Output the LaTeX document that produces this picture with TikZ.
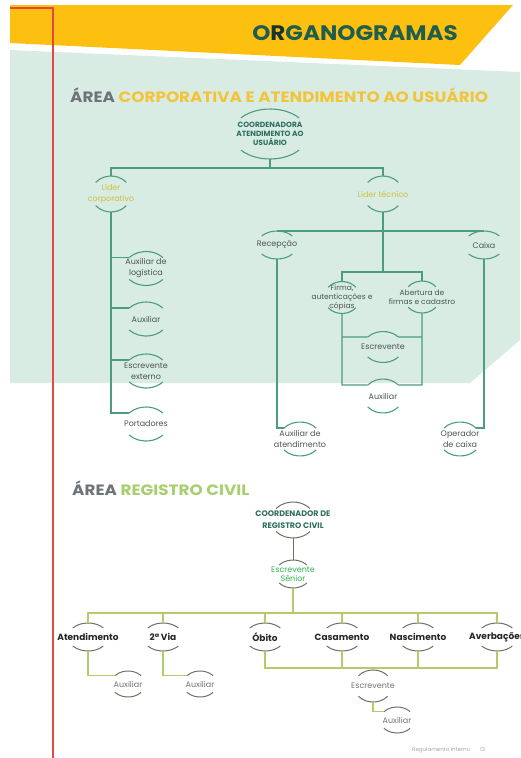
\documentclass[tikz,border=0pt]{standalone}
\usepackage{fontspec}
\setmainfont{Poppins}
\definecolor{yel}{HTML}{FDC010}
\definecolor{pgreen}{HTML}{D8ECE4}
\definecolor{redl}{HTML}{E2493F}
\definecolor{ttl}{HTML}{1F5E4E}
\definecolor{ttldk}{HTML}{17352E}
\definecolor{gry}{HTML}{6E7378}
\definecolor{ytxt}{HTML}{F3C33A}
\definecolor{gtxt}{HTML}{A8CF6E}
\definecolor{uline}{HTML}{4C9C80}
\definecolor{utxt}{HTML}{4B5553}
\definecolor{ldr}{HTML}{C9C23C}
\definecolor{lline}{HTML}{B4CB6C}
\definecolor{larc}{HTML}{707060}
\definecolor{esen}{HTML}{2EB24E}
\definecolor{ctxt}{HTML}{2F6F60}
\newcommand\arcnode[7]{%
  \node[#6] (#1) at #2 {#7};
  \draw[#5] ([shift={(220:#3 and #4)}]#1.center) coordinate (#1-tl)
    arc[start angle=220,end angle=320,x radius=#3,y radius=#4] coordinate (#1-tr);
  \draw[#5] ([shift={(140:#3 and #4)}]#1.center) coordinate (#1-bl)
    arc[start angle=140,end angle=40,x radius=#3,y radius=#4] coordinate (#1-br);
  \coordinate (#1-t) at ([shift={(270:#3 and #4)}]#1.center);
  \coordinate (#1-b) at ([shift={(90:#3 and #4)}]#1.center);
}
\begin{document}
\begin{tikzpicture}[x=1pt,y=-1pt,
  ul/.style={draw=uline,line width=1.2pt},
  ua/.style={draw=uline,line width=1.1pt},
  ll/.style={draw=lline,line width=1.3pt},
  la/.style={draw=larc,line width=1pt},
  ut/.style={font=\fontsize{8}{11}\selectfont,text=utxt,align=center,inner sep=0},
  ft/.style={font=\fontsize{7.5}{8.8}\selectfont,text=utxt,align=center,inner sep=0},
  ct/.style={font=\fontsize{7.5}{9}\selectfont\bfseries,text=ctxt,align=center,inner sep=0},
  lt/.style={font=\fontsize{8}{11}\selectfont,text=ldr,align=center,inner sep=0},
  bt/.style={font=\fontsize{9}{11}\selectfont\bfseries,text=black!85,align=center,inner sep=0},
  gt/.style={font=\fontsize{8}{11}\selectfont,text=black!55,align=center,inner sep=0},
  crt/.style={font=\fontsize{8}{12}\selectfont\bfseries,text=ctxt,align=center,inner sep=0},
  et/.style={font=\fontsize{8}{9}\selectfont,text=esen,align=center,inner sep=0}]
\useasboundingbox (0,0) rectangle (520,758);
\fill[white] (0,0) rectangle (520,758);
% background bands
\fill[pgreen] (10,50) -- (520,72) -- (520,340) -- (470,383) -- (10,383) -- cycle;
\fill[yel] (10,5) -- (513,5) -- (460,65) -- (10,43) -- cycle;
\draw[redl,line width=1.8pt] (10,8) -- (53,8) -- (53,760);
% titles
\node[font=\fontsize{21}{21}\selectfont\bfseries,text=ttl,inner sep=0] (title) at (355,33)
  {\scalebox{1.1}[1]{O\textcolor{ttldk}{R}GANOGRAMAS}};
\node[anchor=west,font=\fontsize{15}{15}\selectfont\bfseries,inner sep=0] (h1) at (70,95)
  {\scalebox{1.12}[1]{\textcolor{gry}{ÁREA} \textcolor{ytxt}{CORPORATIVA E ATENDIMENTO AO USUÁRIO}}};
\node[anchor=west,font=\fontsize{15}{15}\selectfont\bfseries,inner sep=0] (h2) at (72,488)
  {\scalebox{1.12}[1]{\textcolor{gry}{ÁREA} \textcolor{gtxt}{REGISTRO CIVIL}}};
\node[anchor=west,font=\fontsize{5.5}{6}\selectfont,text=black!35,inner sep=0] (foot) at (412,750)
  {Regulamento Interno\hspace{10pt}13};
% ---------- upper chart ----------
\arcnode{coordn}{(270,134)}{38}{25}{ua}{ct}{COORDENADORA\\ATENDIMENTO AO\\USUÁRIO}
\arcnode{lidcorp}{(111,194)}{20}{18}{ua}{lt}{Líder\\corporativo}
\arcnode{lidtec}{(383,194)}{20}{18}{ua}{lt}{Líder técnico}
\arcnode{auxlog}{(146,268.5)}{22}{17}{ua}{ut}{Auxiliar de\\logística}
\arcnode{aux1}{(146,319)}{22}{17}{ua}{ut}{Auxiliar}
\arcnode{escext}{(146,371)}{22}{17}{ua}{ut}{Escrevente\\externo}
\arcnode{port}{(146,424)}{22}{17}{ua}{ut}{Portadores}
\arcnode{recep}{(277,245)}{20}{14}{ua}{ut}{Recepção}
\arcnode{caixa}{(484,245)}{20}{14}{ua}{ut}{Caixa}
\arcnode{auxat}{(300,439)}{21}{17}{ua}{ut}{Auxiliar de\\atendimento}
\arcnode{opcx}{(460,439)}{21}{17}{ua}{ut}{Operador\\de caixa}
\arcnode{firma}{(342,297.5)}{18}{16}{ua}{ft}{Firma,\\autenticações e\\cópias}
\arcnode{abert}{(422,297)}{18}{16}{ua}{ft}{Abertura de\\firmas e cadastro}
\arcnode{escr}{(383,347)}{20}{15.5}{ua}{ut}{Escrevente}
\arcnode{auxb}{(383,396)}{20}{17}{ua}{ut}{Auxiliar}
\coordinate (j1) at (270,168);
\coordinate (bT) at (383,272);
\coordinate (boxTL) at (342,272);
\coordinate (boxTR) at (422,272);
\coordinate (boxBL) at (342,385);
\coordinate (boxBR) at (422,385);
\coordinate (mL) at (342,337);
\coordinate (mR) at (422,337);
\draw[ul] (coordn-b) -- (j1);
\draw[ul] (lidcorp-t) |- (j1);
\draw[ul] (lidtec-t) |- (j1);
\draw[ul] (lidcorp-b) |- (auxlog-tl);
\draw[ul] (lidcorp-b) |- (aux1-tl);
\draw[ul] (lidcorp-b) |- (escext-tl);
\draw[ul] (lidcorp-b) |- (port-tl);
\draw[ul] (recep-t) -- (caixa-t);
\draw[ul] (lidtec-b) -- (bT);
\draw[ul] (recep-b) |- (auxat-tl);
\draw[ul] (caixa-b) |- (opcx-tr);
\draw[ul] (firma-t) -- (boxTL) -- (boxTR) -- (abert-t);
\draw[ul] (firma-b) -- (boxBL) -- (auxb-tl);
\draw[ul] (abert-b) -- (boxBR) -- (auxb-tr);
\draw[ul] (mL) -- (escr-tl);
\draw[ul] (escr-tr) -- (mR);
% ---------- lower chart ----------
\arcnode{crc}{(293,520)}{22}{18}{la}{crt}{COORDENADOR DE\\REGISTRO CIVIL}
\arcnode{esen}{(293,574)}{18}{14}{la}{et}{Escrevente\\Sênior}
\arcnode{aten}{(88,637)}{20}{14}{la}{bt}{Atendimento}
\arcnode{via}{(163,637)}{20}{14}{la}{bt}{2ª Via}
\arcnode{obito}{(265,637)}{20}{14}{la}{bt}{Óbito}
\arcnode{casam}{(342,637)}{20}{14}{la}{bt}{Casamento}
\arcnode{nasc}{(418,637)}{20}{14}{la}{bt}{Nascimento}
\arcnode{averb}{(497,637)}{20}{14}{la}{bt}{Averbações}
\arcnode{auxA}{(128,684)}{17}{13}{la}{gt}{Auxiliar}
\arcnode{auxV}{(200,684)}{17}{13}{la}{gt}{Auxiliar}
\arcnode{esc2}{(373,686)}{19}{16}{la}{gt}{Escrevente}
\arcnode{aux3}{(397,720)}{17}{13}{la}{gt}{Auxiliar}
\coordinate (jc) at (293,613);
\coordinate (hb1) at (265,668);
\coordinate (hb2) at (497,668);
\draw[la] (crc-b) -- (esen-t);
\draw[ll] (esen-b) -- (jc);
\draw[ll] (aten-t) |- (jc);
\draw[ll] (via-t) |- (jc);
\draw[ll] (obito-t) |- (jc);
\draw[ll] (casam-t) |- (jc);
\draw[ll] (nasc-t) |- (jc);
\draw[ll] (averb-t) |- (jc);
\draw[ll] (aten-b) |- (auxA-tl);
\draw[ll] (via-b) |- (auxV-tl);
\draw[ll] (obito-b) -- (hb1) -- (hb2) -- (averb-b);
\draw[ll] (casam-b) -- (casam-b |- hb1);
\draw[ll] (nasc-b) -- (nasc-b |- hb1);
\draw[ll] (esc2-t) -- (esc2-t |- hb1);
\draw[ll] (esc2-b) |- (aux3-tl);
\end{tikzpicture}
\end{document}
